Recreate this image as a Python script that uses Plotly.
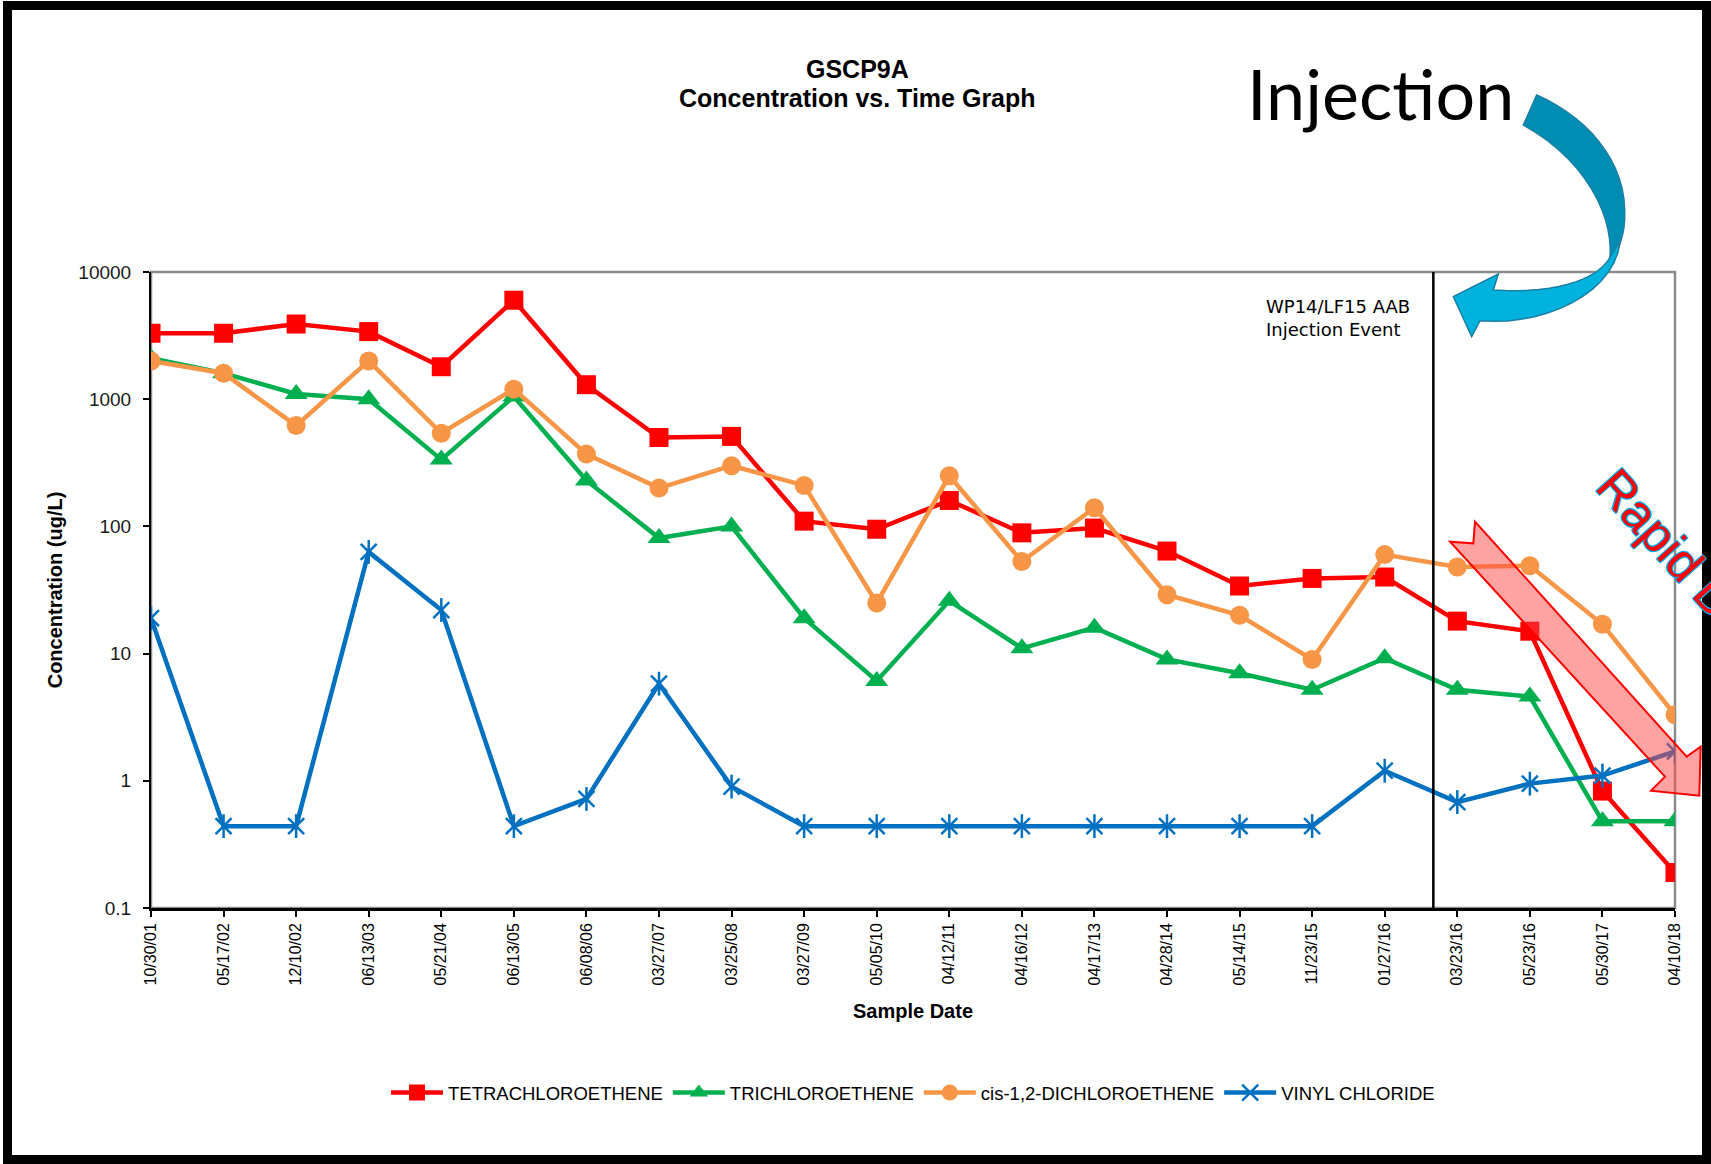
import plotly.graph_objects as go

# ---------------- data ----------------
dates = ["10/30/01", "05/17/02", "12/10/02", "06/13/03", "05/21/04", "06/13/05",
         "06/08/06", "03/27/07", "03/25/08", "03/27/09", "05/05/10", "04/12/11",
         "04/16/12", "04/17/13", "04/28/14", "05/14/15", "11/23/15", "01/27/16",
         "03/23/16", "05/23/16", "05/30/17", "04/10/18"]

pce = [3300, 3300, 3900, 3400, 1800, 6000, 1300, 500, 510, 110, 95, 160,
       89, 97, 64, 34, 39, 40, 18, 15, 0.83, 0.19]
tce = [2100, 1600, 1100, 1000, 335, 1050, 230, 81, 100, 19, 6.1, 26,
       11, 16, 9, 7, 5.2, 9.2, 5.2, 4.6, 0.48, 0.48]
dce = [2000, 1600, 620, 2000, 540, 1200, 370, 200, 300, 210, 25, 250,
       53, 140, 29, 20, 9, 60, 48, 49, 17, 3.3]
vc = [19, 0.44, 0.44, 63, 22, 0.44, 0.72, 5.8, 0.9, 0.44, 0.44, 0.44,
      0.44, 0.44, 0.44, 0.44, 0.44, 1.2, 0.68, 0.95, 1.1, 1.7]

y_tickvals = [0.1, 1, 10, 100, 1000, 10000]
y_ticktext = ["0.1", "1", "10", "100", "1000", "10000"]

injection_pos = 17.67  # between 01/27/16 and 03/23/16

# ---------------- layout geometry ----------------
W, H = 1711, 1164
L, R, T, B = 151, 1675, 272, 908
FONT = "Liberation Sans, Arial, sans-serif"


def px(x):
    return (x - L) / (R - L)


def py(y):
    return (B - y) / (B - T)


def bez(p0, p1, p2, p3, n=14):
    out = []
    for i in range(1, n + 1):
        t = i / n
        a, b, c, d = (1 - t) ** 3, 3 * (1 - t) ** 2 * t, 3 * (1 - t) * t ** 2, t ** 3
        out.append((a * p0[0] + b * p1[0] + c * p2[0] + d * p3[0],
                    a * p0[1] + b * p1[1] + c * p2[1] + d * p3[1]))
    return out


def path_from(points, ox, oy, s):
    pts = [(px(ox + x / s), py(oy + y / s)) for x, y in points]
    return "M " + " L ".join(f"{a:.5f},{b:.5f}" for a, b in pts) + " Z"


fig = go.Figure()

series = [
    ("TETRACHLOROETHENE", pce, "#FF0000", "square", 19),
    ("TRICHLOROETHENE", tce, "#00B050", "triangle-up", 20),
    ("cis-1,2-DICHLOROETHENE", dce, "#F79646", "circle", 19),
]
for name, vals, col, sym, size in series:
    fig.add_trace(go.Scatter(
        x=dates, y=vals, name=name, mode="lines+markers",
        line=dict(color=col, width=4.5),
        marker=dict(symbol=sym, size=size, color=col),
    ))

fig.add_trace(go.Scatter(
    x=dates, y=vc, name="VINYL CHLORIDE", mode="lines+markers",
    line=dict(color="#0070C0", width=4.5),
    marker=dict(symbol="x-thin-open", size=16, color="#0070C0",
                line=dict(color="#0070C0", width=2.5)),
))
fig.add_trace(go.Scatter(
    x=dates, y=vc, name="VINYL CHLORIDE", mode="markers", showlegend=False,
    marker=dict(symbol="line-ns-open", size=17, color="#0070C0",
                line=dict(color="#0070C0", width=2.5)),
))

shapes = []
# plot-area border (gray top/right)
shapes.append(dict(type="rect", xref="paper", yref="paper", x0=0, x1=1, y0=0, y1=1,
                   line=dict(color="#8C8C8C", width=2.5), layer="below"))
# injection event line
shapes.append(dict(type="line", xref="x", yref="paper", x0=injection_pos, x1=injection_pos,
                   y0=0, y1=1, line=dict(color="#000000", width=2.5)))

# blue curved arrow (crop coords, origin 1400,60, scale 3)
blue_top = [(410, 105)] + bez((410, 105), (560, 170), (672, 300), (674, 450)) \
    + bez((674, 450), (676, 500), (668, 530), (655, 565), 5) \
    + [(630, 592)] + bez((630, 592), (640, 470), (560, 300), (370, 195))
blue_bottom = [(660, 545)] + bez((660, 545), (645, 700), (430, 800), (240, 782)) \
    + [(215, 830), (160, 710), (295, 642), (280, 690)] \
    + bez((280, 690), (450, 702), (590, 665), (630, 592))
shapes.append(dict(type="path", xref="paper", yref="paper", layer="above",
                   path=path_from(blue_top, 1400, 60, 3),
                   fillcolor="#008DB3", line=dict(color="#1B7FA3", width=1.5)))
shapes.append(dict(type="path", xref="paper", yref="paper", layer="above",
                   path=path_from(blue_bottom, 1400, 60, 3),
                   fillcolor="#00B2DE", line=dict(color="#1B7FA3", width=1.5)))

# red block arrow (crop coords, origin 1420,500, scale 3)
red_arrow = [(165, 65), (800, 770), (842, 740), (838, 887), (693, 872), (735, 830),
             (90, 125), (160, 130)]
shapes.append(dict(type="path", xref="paper", yref="paper", layer="above",
                   path=path_from(red_arrow, 1420, 500, 3),
                   fillcolor="rgba(255,70,70,0.5)", line=dict(color="#FF0000", width=2)))

# outer black frame
shapes.append(dict(type="rect", xref="paper", yref="paper",
                   x0=px(7.5), x1=px(1706.5), y0=py(1159.5), y1=py(5.5),
                   line=dict(color="#000000", width=9), layer="above"))

annotations = [
    dict(text="<b>GSCP9A</b>",
         xref="paper", yref="paper", x=px(857), y=py(69), xanchor="center", yanchor="middle",
         showarrow=False, font=dict(family=FONT, size=25, color="#000000")),
    dict(text="<b>Concentration vs. Time Graph</b>",
         xref="paper", yref="paper", x=px(857), y=py(98), xanchor="center", yanchor="middle",
         showarrow=False, font=dict(family=FONT, size=25, color="#000000")),
    dict(text="Injection", xref="paper", yref="paper", x=px(1380), y=py(93),
         xanchor="center", yanchor="middle", showarrow=False,
         font=dict(family="Lato, sans-serif", size=70, color="#000000")),
    dict(text="WP14/LF15 AAB<br>Injection Event", xref="paper", yref="paper",
         x=px(1264), y=py(318), xanchor="left", yanchor="middle", align="left",
         showarrow=False, font=dict(family="DejaVu Sans, sans-serif", size=18, color="#000000")),
    dict(text="Rapid Decline", xref="paper", yref="paper", x=px(1710), y=py(592),
         xanchor="center", yanchor="middle", textangle=48, showarrow=False,
         font=dict(family=FONT, size=50, color="#FF0000",
                   shadow="1px 1px 0 #00B0F0, -1px -1px 0 #00B0F0, 1px -1px 0 #00B0F0, -1px 1px 0 #00B0F0")),
]

fig.update_layout(
    width=W, height=H,
    margin=dict(l=L, r=W - R, t=T, b=H - B, autoexpand=False),
    paper_bgcolor="#FFFFFF", plot_bgcolor="#FFFFFF",
    font=dict(family=FONT, color="#000000"),
    showlegend=True,
    legend=dict(orientation="h", x=0.5, xanchor="center", y=py(1093), yanchor="middle",
                font=dict(family=FONT, size=18.5, color="#000000"),
                itemwidth=52, tracegroupgap=0, bgcolor="rgba(0,0,0,0)"),
    xaxis=dict(type="category", range=[0, 21], showgrid=False, zeroline=False,
               showline=True, linecolor="#000000", linewidth=2.5,
               ticks="outside", ticklen=6, tickcolor="#000000", tickwidth=1.5,
               tickangle=-90, tickfont=dict(family=FONT, size=16, color="#000000"),
               title=dict(text="<b>Sample Date</b>", standoff=20,
                          font=dict(family=FONT, size=20, color="#000000"))),
    yaxis=dict(type="log", range=[-1, 4], showgrid=False, zeroline=False,
               showline=True, linecolor="#000000", linewidth=2,
               tickvals=y_tickvals, ticktext=y_ticktext,
               ticks="outside", ticklen=6, tickcolor="#000000", tickwidth=1.5,
               ticklabelstandoff=8,
               tickfont=dict(family=FONT, size=19, color="#1A1A1A"),
               title=dict(text="<b>Concentration (ug/L)</b>", standoff=10,
                          font=dict(family=FONT, size=20, color="#000000"))),
    shapes=shapes,
    annotations=annotations,
)

fig.write_html("out.html", config={"displayModeBar": False},
               post_script="document.body.style.margin='0px';document.body.style.overflow='hidden';")
